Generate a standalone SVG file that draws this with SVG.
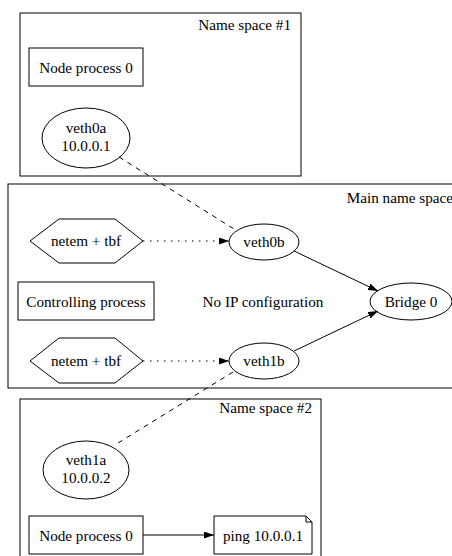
<svg xmlns="http://www.w3.org/2000/svg" width="452" height="556" viewBox="0 0 452 556" font-family="'Liberation Serif', 'DejaVu Serif', serif" font-size="15.2">
<defs>
<style>
text{font-family:'Liberation Serif','DejaVu Serif',serif;font-size:15.2px;fill:#000}
.c{text-anchor:middle}
.r{text-anchor:end}
.cl{fill:#fff;stroke:#000;stroke-width:1}
.n{fill:none;stroke:#000;stroke-width:1}
.e{fill:none;stroke:#000;stroke-width:1}
.dash{stroke-dasharray:5,5}
.dot{stroke-dasharray:1.5,5.5}
</style>
<marker id="ah" viewBox="0 0 10 7" refX="10" refY="3.5" markerWidth="10" markerHeight="7" markerUnits="userSpaceOnUse" orient="auto">
<path d="M0,0 L10,3.5 L0,7 Z" fill="#000"/>
</marker>
</defs>
<rect width="452" height="556" fill="#fff"/>
<g id="clusters">
<g id="ns1"><rect class="cl" x="20" y="13" width="281" height="163"/><text class="r" x="291" y="30">Name space #1</text></g>
<g id="main"><rect class="cl" x="8" y="184" width="460" height="204"/><text class="r" x="453" y="203">Main name space</text></g>
<g id="ns2"><rect class="cl" x="20" y="399" width="301" height="170"/><text class="r" x="312" y="413">Name space #2</text></g>
</g>
<g id="connectors">
<line class="e dash" x1="119" y1="157" x2="234" y2="229"/>
<line class="e dot" x1="143" y1="241" x2="229" y2="241" marker-end="url(#ah)"/>
<line class="e" x1="294" y1="251" x2="378" y2="291" marker-end="url(#ah)"/>
<line class="e" x1="294" y1="351" x2="378" y2="311" marker-end="url(#ah)"/>
<line class="e dot" x1="143" y1="361" x2="229" y2="361" marker-end="url(#ah)"/>
<line class="e dash" x1="233" y1="372" x2="118" y2="443"/>
<line class="e" x1="143" y1="535" x2="214" y2="535" marker-end="url(#ah)"/>
</g>
<g id="node_process_0_a"><rect class="n" x="29" y="48" width="114" height="38"/><text class="c" x="86" y="72.5">Node process 0</text></g>
<g id="veth0a"><ellipse class="n" cx="86" cy="138" rx="44" ry="30"/><text class="c" x="86" y="133">veth0a</text><text class="c" x="86" y="151">10.0.0.1</text></g>
<g id="netem1"><polygon class="n" points="30,241 59,219 115,219 143,241 115,263 59,263"/><text class="c" x="86" y="246">netem + tbf</text></g>
<g id="veth0b"><ellipse class="n" cx="264" cy="242" rx="35" ry="18"/><text class="c" x="264" y="247">veth0b</text></g>
<g id="controlling"><rect class="n" x="18" y="282" width="136" height="38"/><text class="c" x="86" y="306.5">Controlling process</text></g>
<g id="noip"><text class="c" x="263" y="306.5">No IP configuration</text></g>
<g id="bridge0"><ellipse class="n" cx="411" cy="301.5" rx="41" ry="18.5"/><text class="c" x="411" y="306.5">Bridge 0</text></g>
<g id="netem2"><polygon class="n" points="30,361 59,338 115,338 143,361 115,383 59,383"/><text class="c" x="86" y="366">netem + tbf</text></g>
<g id="veth1b"><ellipse class="n" cx="264" cy="361" rx="35" ry="18"/><text class="c" x="264" y="366">veth1b</text></g>
<g id="veth1a"><ellipse class="n" cx="86" cy="470" rx="43" ry="29"/><text class="c" x="86" y="465">veth1a</text><text class="c" x="86" y="483">10.0.0.2</text></g>
<g id="node_process_0_b"><rect class="n" x="29" y="516" width="114" height="38"/><text class="c" x="86" y="540.5">Node process 0</text></g>
<g id="ping"><path class="n" d="M214,516 H306 L312,522 V554 H214 Z M306,516 V522 H312"/><text class="c" x="263" y="540.5">ping 10.0.0.1</text></g>
</svg>
